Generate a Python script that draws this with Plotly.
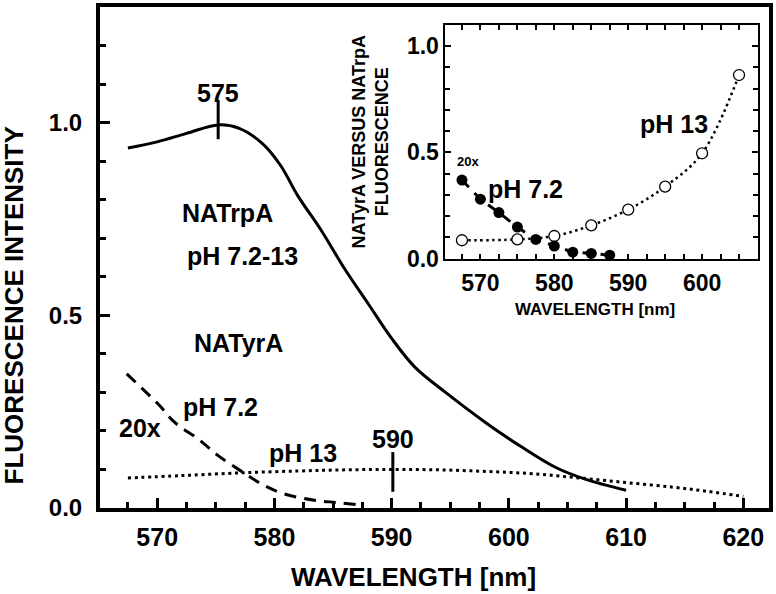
import plotly.graph_objects as go

FONT = "Liberation Sans, Arial, Helvetica, sans-serif"

# ---- main panel data (wavelength nm, fluorescence intensity) ----
trp_wl = [567.5, 570.0, 572.5, 575.2, 577.0, 579.0, 580.5, 582.0, 584.0, 586.0,
          588.0, 590.0, 592.0, 594.6, 598.0, 601.0, 604.0, 606.5, 610.0]
trp_int = [0.934, 0.950, 0.972, 0.994, 0.985, 0.945, 0.890, 0.810, 0.720, 0.620,
           0.530, 0.440, 0.365, 0.300, 0.222, 0.160, 0.105, 0.075, 0.046]

tyr72_wl = [567.4, 570.1, 571.5, 573.5, 575.2, 577.4, 579.1, 580.8, 583.4, 585.4, 587.5]
tyr72_int = [0.348, 0.269, 0.222, 0.179, 0.136, 0.091, 0.059, 0.037, 0.020, 0.014, 0.007]

tyr13_wl = [567.5, 572.0, 577.0, 582.0, 586.0, 590.0, 594.0, 598.0, 602.0, 606.0,
            610.0, 614.0, 617.0, 620.0]
tyr13_int = [0.078, 0.084, 0.091, 0.096, 0.099, 0.100, 0.099, 0.095, 0.089, 0.078,
             0.066, 0.054, 0.043, 0.030]

peak_wl = [575.2, 590.1]
peak_lo = [0.957, 0.042]
peak_hi = [1.059, 0.145]
peak_labels = ["575", "590"]
peak_label_y = [1.076, 0.178]

# ---- inset data ----
ins72_wl = [567.5, 570.0, 572.5, 575.0, 577.5, 580.0, 582.5, 585.0, 587.5]
ins72_val = [0.370, 0.280, 0.217, 0.149, 0.091, 0.060, 0.031, 0.025, 0.017]
ins13_wl = [567.5, 575.0, 580.0, 585.0, 590.0, 595.0, 600.0, 605.0]
ins13_val = [0.087, 0.091, 0.107, 0.157, 0.231, 0.339, 0.496, 0.864]

fig = go.Figure()

fig.add_trace(go.Scatter(x=trp_wl, y=trp_int, mode="lines", line_shape="spline",
                         line=dict(color="black", width=3), cliponaxis=False))
fig.add_trace(go.Scatter(x=tyr72_wl, y=tyr72_int, mode="lines", line_shape="spline",
                         line=dict(color="black", width=3, dash="12px,8px"), cliponaxis=False))
fig.add_trace(go.Scatter(x=tyr13_wl, y=tyr13_int, mode="lines", line_shape="spline",
                         line=dict(color="black", width=3, dash="3px,3.7px"), cliponaxis=False))
for wl, lo, hi in zip(peak_wl, peak_lo, peak_hi):
    fig.add_trace(go.Scatter(x=[wl, wl], y=[lo, hi], mode="lines",
                             line=dict(color="black", width=3), cliponaxis=False))

# inset traces
fig.add_trace(go.Scatter(x=ins13_wl, y=ins13_val, mode="lines+markers", line_shape="spline",
                         xaxis="x2", yaxis="y2", cliponaxis=False,
                         line=dict(color="black", width=2.5, dash="2.5px,3.5px"),
                         marker=dict(size=11, color="white", line=dict(color="black", width=1.3))))
fig.add_trace(go.Scatter(x=ins72_wl, y=ins72_val, mode="lines+markers",
                         xaxis="x2", yaxis="y2", cliponaxis=False,
                         line=dict(color="black", width=3, dash="10px,8px"),
                         marker=dict(size=11, color="black")))

anns = []
def txt(t, x, y, size, xref="x", yref="y", **kw):
    anns.append(dict(text=t, x=x, y=y, xref=xref, yref=yref, showarrow=False,
                     xanchor="center", yanchor="middle",
                     font=dict(family=FONT, size=size, color="black"), **kw))

for lab, wl, ly in zip(peak_labels, peak_wl, peak_label_y):
    txt("<b>%s</b>" % lab, wl, ly, 25)
txt("<b>NATrpA</b>", 576.0, 0.765, 25)
txt("<b>pH 7.2-13</b>", 577.3, 0.655, 25)
txt("<b>NATyrA</b>", 576.9, 0.427, 25)
txt("<b>pH 7.2</b>", 575.4, 0.262, 25)
txt("<b>20x</b>", 568.5, 0.207, 25)
txt("<b>pH 13</b>", 582.4, 0.144, 25)

txt("<b>pH 13</b>", 596.2, 0.635, 25, "x2", "y2")
txt("<b>pH 7.2</b>", 576.1, 0.330, 25, "x2", "y2")
txt("<b>20x</b>", 568.35, 0.458, 13, "x2", "y2")

# axis titles as annotations
txt("<b>FLUORESCENCE INTENSITY</b>", -0.1284, 0.4045, 26, "paper", "paper", textangle=-90)
txt("<b>WAVELENGTH [nm]</b>", 0.4687, -0.1375, 26, "paper", "paper")
txt("<b>WAVELENGTH [nm]</b>", 0.7403, 0.3966, 17, "paper", "paper")
txt("<b>NATyrA VERSUS NATrpA<br>FLUORESCENCE</b>", 0.4045, 0.731, 18, "paper", "paper",
    textangle=-90)

tickfont_x = dict(family=FONT, size=25, color="black")
tickfont_y = dict(family=FONT, size=24, color="black")
tickfont_ins = dict(family=FONT, size=23, color="black")

fig.update_layout(
    width=776, height=594,
    margin=dict(l=100, r=6, t=3, b=85.5),
    paper_bgcolor="white", plot_bgcolor="white",
    showlegend=False,
    annotations=anns,
    xaxis=dict(range=[565.12, 622.19], domain=[0, 1], anchor="y",
               showline=True, linecolor="black", linewidth=4, mirror=True,
               showgrid=False, zeroline=False,
               ticks="inside", ticklen=10, tickwidth=3, tickcolor="black",
               tickvals=[570, 580, 590, 600, 610, 620],
               ticktext=["<b>570</b>", "<b>580</b>", "<b>590</b>", "<b>600</b>", "<b>610</b>", "<b>620</b>"],
               tickfont=tickfont_x, ticklabelstandoff=4,
               minor=dict(dtick=2.5, tick0=565, ticks="inside", ticklen=6, tickwidth=3,
                          tickcolor="black", showgrid=False)),
    yaxis=dict(range=[0, 1.3], domain=[0, 1], anchor="x",
               showline=True, linecolor="black", linewidth=4, mirror=True,
               showgrid=False, zeroline=False,
               ticks="inside", ticklen=10, tickwidth=3, tickcolor="black",
               tickvals=[0, 0.5, 1.0],
               ticktext=["<b>0.0</b>", "<b>0.5</b>", "<b>1.0</b>"],
               tickfont=tickfont_y, ticklabelstandoff=9,
               minor=dict(dtick=0.1, tick0=0, ticks="inside", ticklen=6, tickwidth=3,
                          tickcolor="black", showgrid=False)),
    xaxis2=dict(range=[565.27, 607.57], domain=[0.5164, 0.9836], anchor="y2",
                showline=True, linecolor="black", linewidth=2, mirror="ticks",
                showgrid=False, zeroline=False,
                ticks="inside", ticklen=5, tickwidth=2, tickcolor="black",
                tickvals=[570, 580, 590, 600],
                ticktext=["<b>570</b>", "<b>580</b>", "<b>590</b>", "<b>600</b>"],
                tickfont=tickfont_ins, ticklabelstandoff=3,
                minor=dict(dtick=2.5, tick0=565, ticks="inside", ticklen=5, tickwidth=2,
                           tickcolor="black", showgrid=False)),
    yaxis2=dict(range=[0, 1.1], domain=[0.4975, 0.9644], anchor="x2",
                showline=True, linecolor="black", linewidth=2, mirror="ticks",
                showgrid=False, zeroline=False,
                ticks="inside", ticklen=6, tickwidth=2, tickcolor="black",
                tickvals=[0, 0.5, 1.0],
                ticktext=["<b>0.0</b>", "<b>0.5</b>", "<b>1.0</b>"],
                tickfont=tickfont_ins, ticklabelstandoff=0,
                minor=dict(dtick=0.1, tick0=0, ticks="inside", ticklen=5, tickwidth=2,
                           tickcolor="black", showgrid=False)),
)

fig.write_html("out.html", config={"displayModeBar": False},
               post_script="document.body.style.margin='0';")
